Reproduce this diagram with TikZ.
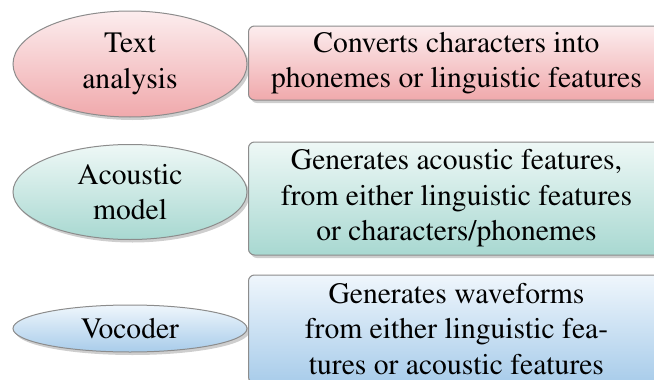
\documentclass[tikz,border=0pt]{standalone}
\usepackage[T1]{fontenc}
\usepackage{mathptmx}
\usetikzlibrary{shapes.geometric,shadows}
\definecolor{redtop}{HTML}{FCEDEE}
\definecolor{redbot}{HTML}{F0A9AC}
\definecolor{tealtop}{HTML}{EEF8F6}
\definecolor{tealbot}{HTML}{A8D8D1}
\definecolor{bluetop}{HTML}{EFF6FC}
\definecolor{bluebot}{HTML}{A8CCEA}
\definecolor{edge}{HTML}{8C8C8C}

\begin{document}
\begin{tikzpicture}[x=0.5pt,y=-0.5pt,
  every node/.style={font=\fontsize{14.8pt}{17.8pt}\selectfont,align=center,inner sep=1pt},
  boxbase/.style={draw=edge,line width=0.5pt,
    drop shadow={shadow xshift=1.2pt,shadow yshift=-1.5pt,fill=black!38}},
  stage/.style={boxbase,ellipse,minimum width=117pt},
  task/.style={boxbase,rectangle,rounded corners=3pt,minimum width=208pt,anchor=west},
  redfill/.style={top color=redtop,bottom color=redbot},
  tealfill/.style={top color=tealtop,bottom color=tealbot},
  bluefill/.style={top color=bluetop,bottom color=bluebot}]
  \useasboundingbox (0,0) rectangle (654,380);
  \clip (0,0) rectangle (654,380);
  % text analysis
  \node[stage,redfill,minimum height=53pt] (textan) at (130,64) {Text\\analysis};
  \node[task,redfill,minimum height=37pt] (textanjob) at (248,63) {Converts characters into\\phonemes or linguistic features};
  % acoustic model
  \node[stage,tealfill,minimum height=47.5pt] (acoustic) at (130,192) {Acoustic\\model};
  \node[task,tealfill,minimum height=56.5pt] (acousticjob) at (248,198.5) {Generates acoustic features,\\from either linguistic features\\or characters/phonemes};
  % vocoder
  \node[stage,bluefill,minimum height=23.5pt] (vocoder) at (130,328.5) {Vocoder};
  \node[task,bluefill,minimum height=54pt] (vocoderjob) at (248,329) {Generates waveforms\\from either linguistic fea-\\tures or acoustic features};
\end{tikzpicture}
\end{document}
